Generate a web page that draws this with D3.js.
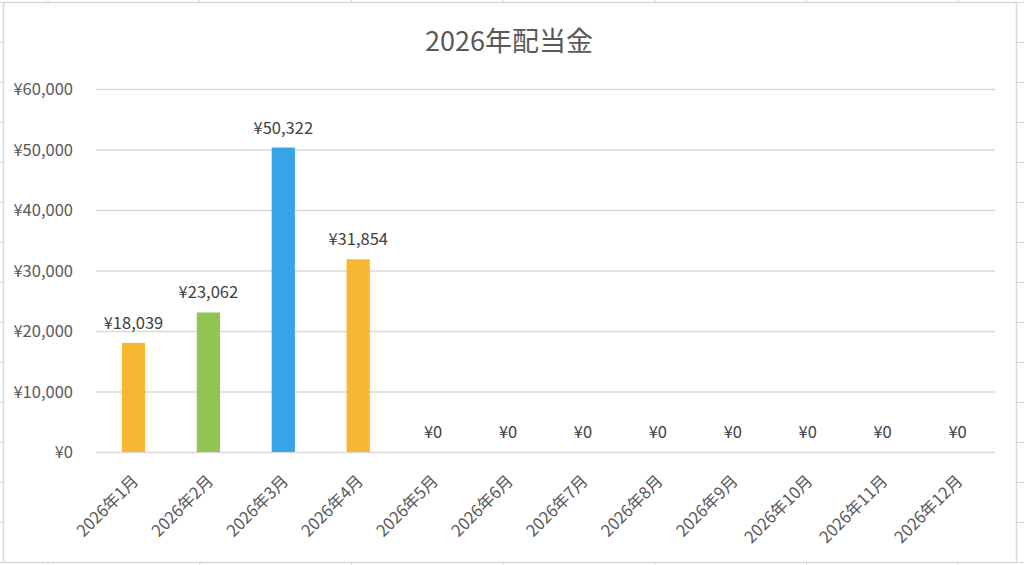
<!DOCTYPE html>
<html lang="ja">
<head>
<meta charset="UTF-8">
<title>2026年配当金</title>
<style>
  body { margin: 0; background: #fff; }
  text { font-family: "Noto Sans CJK JP", "Noto Sans", sans-serif; }
  .tick text { fill: #595959; font-size: 16.5px; }
  .label { fill: #404040; font-size: 16.5px; text-anchor: middle; }
</style>
</head>
<body>
<script src="https://d3js.org/d3.v7.min.js"></script>
<script>
// データ
var months = ["2026年1月", "2026年2月", "2026年3月", "2026年4月", "2026年5月", "2026年6月",
              "2026年7月", "2026年8月", "2026年9月", "2026年10月", "2026年11月", "2026年12月"];
var amounts = [18039, 23062, 50322, 31854, 0, 0, 0, 0, 0, 0, 0, 0];
var barColors = ["#F7B733", "#92C454", "#35A5E8", "#F7B733", "#F7B733", "#F7B733",
                 "#F7B733", "#F7B733", "#F7B733", "#F7B733", "#F7B733", "#F7B733"];
var yTicks = [0, 10000, 20000, 30000, 40000, 50000, 60000];

var width = 1024, height = 565;
var plot = { left: 96, right: 995, top: 89, bottom: 452 };

var svg = d3.select("body").append("svg")
    .attr("width", width).attr("height", height);

// 背景のシート罫線
var sheet = svg.append("g").attr("stroke", "#d6d6d6").attr("stroke-width", 1);
d3.range(2, height, 40).forEach(function (y) {
    sheet.append("line").attr("x1", 0).attr("x2", width).attr("y1", y + 0.5).attr("y2", y + 0.5);
});
d3.range(48, width, 151.7).forEach(function (x) {
    sheet.append("line").attr("x1", x).attr("x2", x).attr("y1", 0).attr("y2", height);
});

// グラフエリア
svg.append("rect")
    .attr("x", 3.5).attr("y", 2.5).attr("width", 1013).attr("height", 560)
    .attr("fill", "#fff").attr("stroke", "#d9d9d9").attr("stroke-width", 1.5);

var xScale = d3.scaleBand()
    .domain(months)
    .range([plot.left, plot.right])
    .paddingInner(0.69).paddingOuter(0.345);

var yScale = d3.scaleLinear()
    .domain([0, 60000])
    .range([plot.bottom, plot.top]);

// 目盛線とY軸
var yAxis = svg.append("g")
    .attr("transform", "translate(" + plot.left + ",0)")
    .call(d3.axisLeft(yScale)
        .tickValues(yTicks)
        .tickSize(-(plot.right - plot.left))
        .tickPadding(23)
        .tickFormat(function (d) { return "¥" + d3.format(",")(d); }));
yAxis.select(".domain").remove();
yAxis.selectAll(".tick line").attr("stroke", "#d9d9d9").attr("stroke-width", 1.5);
yAxis.selectAll(".tick text").attr("dy", "0.36em");

// 棒
svg.selectAll(".bar")
    .data(amounts)
    .enter()
    .append("rect")
    .attr("class", "bar")
    .attr("x", function (d, i) { return xScale(months[i]); })
    .attr("y", function (d) { return yScale(d); })
    .attr("width", xScale.bandwidth())
    .attr("height", function (d) { return yScale(0) - yScale(d); })
    .attr("fill", function (d, i) { return barColors[i]; });

// データラベル
svg.selectAll(".label")
    .data(amounts)
    .enter()
    .append("text")
    .attr("class", "label")
    .attr("x", function (d, i) { return xScale(months[i]) + xScale.bandwidth() / 2; })
    .attr("y", function (d) { return yScale(d) - 14; })
    .text(function (d) { return "¥" + d3.format(",")(d); });

// X軸
var xAxis = svg.append("g")
    .attr("transform", "translate(0," + plot.bottom + ")")
    .call(d3.axisBottom(xScale).tickSize(0).tickPadding(0));
xAxis.select(".domain").remove();
xAxis.selectAll(".tick text")
    .attr("text-anchor", "end")
    .attr("transform", "translate(2,26) rotate(-45)")
    .attr("dy", "0.35em");

// タイトル
svg.append("text")
    .attr("x", 509).attr("y", 51)
    .attr("text-anchor", "middle")
    .attr("fill", "#595959")
    .style("font-size", "27px")
    .text("2026年配当金");
</script>
</body>
</html>
